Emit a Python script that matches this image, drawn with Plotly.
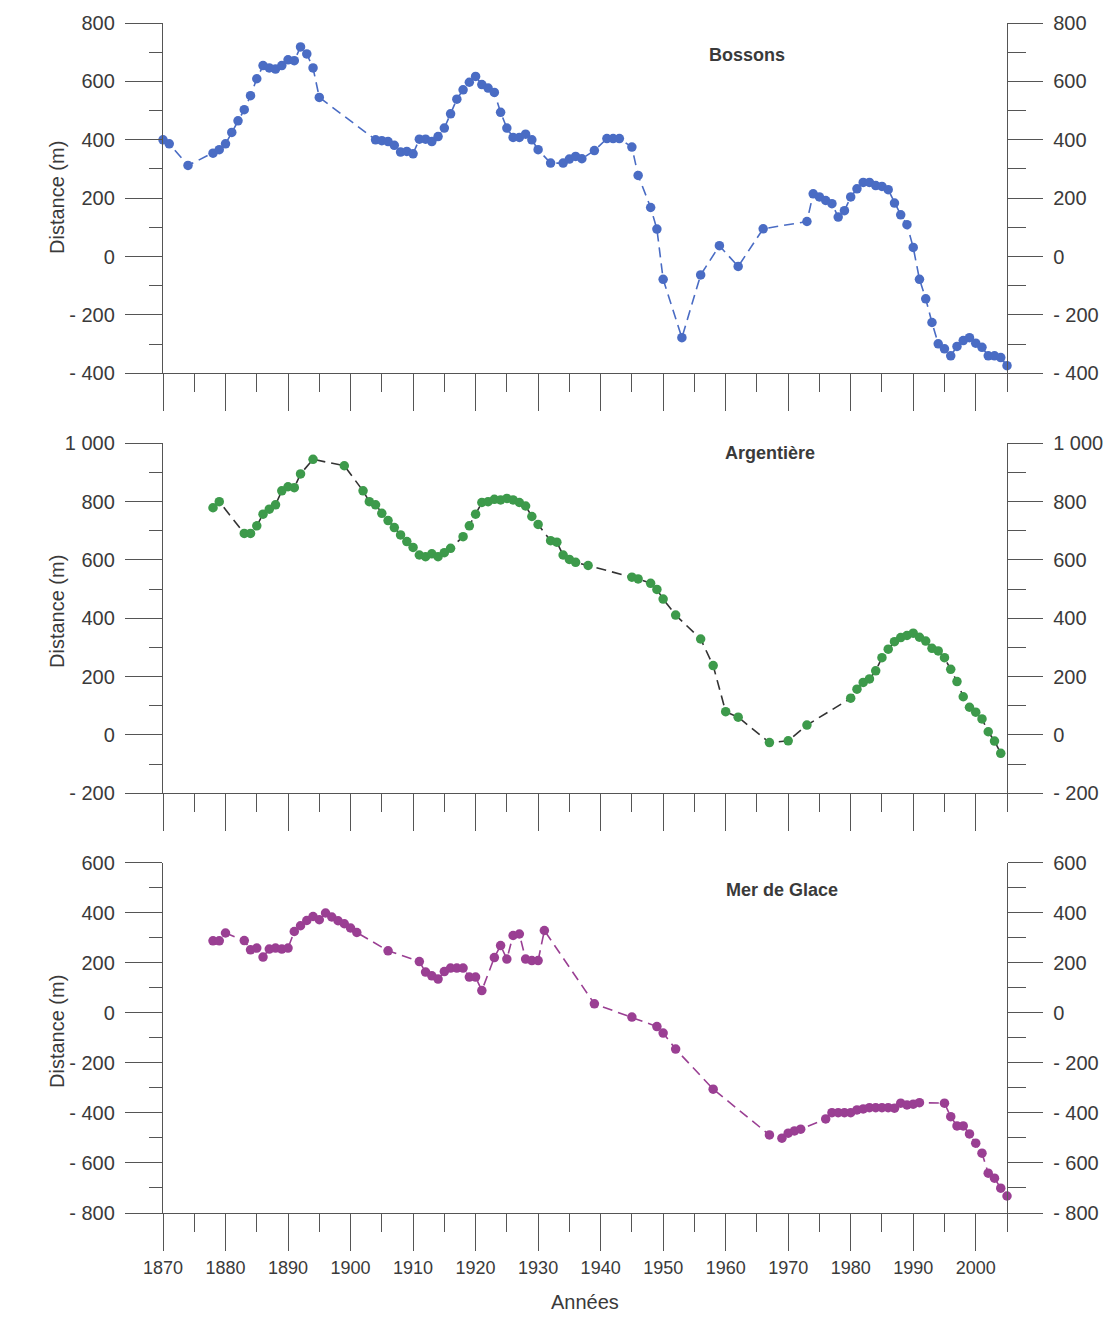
import plotly.graph_objects as go

# ---------------- data ----------------
bossons_years = [1870, 1871, 1874, 1878, 1879, 1880, 1881, 1882, 1883, 1884, 1885, 1886, 1887, 1888, 1889,
                 1890, 1891, 1892, 1893, 1894, 1895, 1904, 1905, 1906, 1907, 1908, 1909, 1910, 1911, 1912,
                 1913, 1914, 1915, 1916, 1917, 1918, 1919, 1920, 1921, 1922, 1923, 1924, 1925, 1926, 1927,
                 1928, 1929, 1930, 1932, 1934, 1935, 1936, 1937, 1939, 1941, 1942, 1943, 1945, 1946, 1948,
                 1949, 1950, 1953, 1956, 1959, 1962, 1966, 1973, 1974, 1975, 1976, 1977, 1978, 1979, 1980,
                 1981, 1982, 1983, 1984, 1985, 1986, 1987, 1988, 1989, 1990, 1991, 1992, 1993, 1994, 1995,
                 1996, 1997, 1998, 1999, 2000, 2001, 2002, 2003, 2004, 2005]
bossons_dist = [400, 386, 312, 354, 366, 386, 425, 465, 503, 551, 609, 654, 646, 642, 654,
                674, 671, 718, 694, 646, 545, 400, 397, 394, 381, 358, 360, 352, 402, 402,
                394, 411, 440, 489, 539, 571, 597, 617, 589, 577, 562, 494, 440, 408, 408,
                419, 400, 366, 320, 320, 334, 343, 335, 363, 404, 404, 404, 375, 278, 168,
                94, -78, -278, -63, 37, -34, 95, 120, 215, 204, 192, 181, 135, 157, 204,
                232, 254, 254, 243, 240, 229, 183, 143, 109, 31, -78, -145, -226, -299, -316,
                -340, -308, -288, -278, -297, -311, -340, -340, -346, -374]

argentiere_years = [1878, 1879, 1883, 1884, 1885, 1886, 1887, 1888, 1889, 1890, 1891, 1892, 1894, 1899,
                    1902, 1903, 1904, 1905, 1906, 1907, 1908, 1909, 1910, 1911, 1912, 1913, 1914, 1915,
                    1916, 1918, 1919, 1920, 1921, 1922, 1923, 1924, 1925, 1926, 1927, 1928, 1929, 1930,
                    1932, 1933, 1934, 1935, 1936, 1938, 1945, 1946, 1948, 1949, 1950, 1952, 1956, 1958,
                    1960, 1962, 1967, 1970, 1973, 1980, 1981, 1982, 1983, 1984, 1985, 1986, 1987, 1988,
                    1989, 1990, 1991, 1992, 1993, 1994, 1995, 1996, 1997, 1998, 1999, 2000, 2001, 2002,
                    2003, 2004]
argentiere_dist = [779, 800, 691, 691, 717, 757, 774, 789, 837, 851, 848, 895, 945, 923,
                   837, 800, 789, 760, 735, 711, 686, 663, 643, 617, 611, 621, 611, 625,
                   640, 680, 717, 757, 797, 800, 808, 806, 811, 806, 797, 785, 749, 722,
                   666, 661, 617, 602, 592, 581, 541, 535, 520, 499, 466, 411, 329, 238,
                   80, 61, -26, -20, 34, 126, 157, 180, 192, 220, 265, 294, 320, 334,
                   341, 349, 335, 322, 297, 288, 265, 225, 183, 131, 95, 78, 55, 11,
                   -21, -63]

merdeglace_years = [1878, 1879, 1880, 1883, 1884, 1885, 1886, 1887, 1888, 1889, 1890, 1891, 1892, 1893,
                    1894, 1895, 1896, 1897, 1898, 1899, 1900, 1901, 1906, 1911, 1912, 1913, 1914, 1915,
                    1916, 1917, 1918, 1919, 1920, 1921, 1923, 1924, 1925, 1926, 1927, 1928, 1929, 1930,
                    1931, 1939, 1945, 1949, 1950, 1952, 1958, 1967, 1969, 1970, 1971, 1972, 1976, 1977,
                    1978, 1979, 1980, 1981, 1982, 1983, 1984, 1985, 1986, 1987, 1988, 1989, 1990, 1991,
                    1995, 1996, 1997, 1998, 1999, 2000, 2001, 2002, 2003, 2004, 2005]
merdeglace_dist = [288, 288, 319, 289, 252, 259, 223, 255, 259, 255, 259, 325, 348, 369,
                   385, 372, 399, 383, 368, 356, 339, 321, 248, 205, 163, 148, 135, 165,
                   179, 179, 179, 143, 143, 89, 221, 269, 215, 309, 315, 215, 209, 209,
                   329, 36, -17, -55, -81, -145, -305, -488, -501, -481, -472, -465, -424, -399,
                   -399, -399, -399, -388, -384, -379, -379, -379, -379, -381, -361, -368, -365, -359,
                   -361, -415, -452, -452, -484, -521, -561, -641, -661, -701, -732]

panel_titles = ["Bossons", "Argentière", "Mer de Glace"]
y_title = "Distance (m)"
x_title = "Années"

# y tick labels per panel
bossons_tickvals = [800, 600, 400, 200, 0, -200, -400]
bossons_ticktext = ["800", "600", "400", "200", "0", "- 200", "- 400"]
argentiere_tickvals = [1000, 800, 600, 400, 200, 0, -200]
argentiere_ticktext = ["1 000", "800", "600", "400", "200", "0", "- 200"]
merdeglace_tickvals = [600, 400, 200, 0, -200, -400, -600, -800]
merdeglace_ticktext = ["600", "400", "200", "0", "- 200", "- 400", "- 600", "- 800"]

# ---------------- styling ----------------
FONT = "Liberation Sans, Arial, Helvetica, sans-serif"
TXT = "#3a3a3a"
AX = "#555555"
blue = "#4a6cc4"
green = "#3d9a4b"
purple = "#9a3f93"

W, H = 1103, 1333
ML, MR, MT, MB = 163, 96, 23, 120
plot_h = H - MT - MB
plot_w = W - ML - MR


def py(p):
    return (H - MB - p) / plot_h


def px(p):
    return (p - ML) / plot_w


domains = [[py(373.3), 1.0], [py(793.3), py(443.3)], [0.0, py(862.7)]]
ranges = [[-400, 800], [-200, 1000], [-800, 600]]
tickvals = [bossons_tickvals, argentiere_tickvals, merdeglace_tickvals]
ticktext = [bossons_ticktext, argentiere_ticktext, merdeglace_ticktext]

fig = go.Figure()

series = [
    (bossons_years, bossons_dist, blue, blue),
    (argentiere_years, argentiere_dist, green, "#333333"),
    (merdeglace_years, merdeglace_dist, purple, purple),
]
for i, (xs, ys, mc, lc) in enumerate(series):
    n = "" if i == 0 else str(i + 1)
    fig.add_trace(go.Scatter(
        x=xs, y=ys, xaxis="x" + n, yaxis="y" + n, mode="lines+markers",
        line=dict(color=lc, width=1.6, dash="10px,6px"),
        marker=dict(color=mc, size=9.5, line=dict(width=0)),
        cliponaxis=False, showlegend=False, hoverinfo="x+y",
    ))
    # companion (empty) trace so the right-hand axis is drawn
    fig.add_trace(go.Scatter(x=[None], y=[None], xaxis="x" + n, yaxis="y" + str(i + 4),
                             mode="lines", showlegend=False, hoverinfo="skip"))

layout = dict(
    width=W, height=H,
    margin=dict(l=ML, r=MR, t=MT, b=MB, autoexpand=False),
    paper_bgcolor="white", plot_bgcolor="white",
    font=dict(family=FONT, size=18, color=TXT),
    showlegend=False,
)

for i in range(3):
    n = "" if i == 0 else str(i + 1)
    minor_vals = list(range(ranges[i][0], ranges[i][1] + 1, 100))
    layout["xaxis" + n] = dict(
        domain=[0, 1], anchor="y" + n, range=[1870, 2005],
        tick0=1870, dtick=10, ticks="outside", ticklen=37, tickwidth=1.3, tickcolor=AX,
        minor=dict(tick0=1870, dtick=5, ticks="outside", ticklen=18, tickwidth=1.3, tickcolor=AX),
        showline=True, linecolor=AX, linewidth=1.3,
        showgrid=False, zeroline=False, tickformat="d",
        showticklabels=(i == 2), ticklabelstandoff=1,
        tickfont=dict(size=18, color=TXT, family=FONT),
        fixedrange=True,
    )
    common = dict(
        range=ranges[i], tickmode="array", tickvals=tickvals[i], ticktext=ticktext[i],
        ticks="outside", tickwidth=1.3, tickcolor=AX,
        showline=True, linecolor=AX, linewidth=1.3,
        showgrid=False, zeroline=False, fixedrange=True,
        tickfont=dict(size=20, color=TXT, family=FONT), ticklabelstandoff=6,
    )
    layout["yaxis" + n] = dict(
        domain=domains[i], anchor="x" + n, side="left", ticklen=37,
        minor=dict(tickmode="array", tickvals=minor_vals, ticks="outside", ticklen=13,
                   tickwidth=1.3, tickcolor=AX),
        **common,
    )
    layout["yaxis" + str(i + 4)] = dict(
        overlaying="y" + n, anchor="x" + n, side="right", ticklen=35,
        minor=dict(tickmode="array", tickvals=minor_vals, ticks="outside", ticklen=18,
                   tickwidth=1.3, tickcolor=AX),
        **common,
    )

annotations = []
title_pos = [(747, 55), (770, 452.7), (781.7, 890)]
for t, (ax_, ay_) in zip(panel_titles, title_pos):
    annotations.append(dict(text=t, x=px(ax_), y=py(ay_), xref="paper", yref="paper",
                            xanchor="center", yanchor="middle", showarrow=False,
                            font=dict(size=18, color=TXT, family=FONT, weight="bold")))
for cy in [198, 612, 1032]:
    annotations.append(dict(text=y_title, x=px(57), y=py(cy), xref="paper", yref="paper",
                            xanchor="center", yanchor="middle", showarrow=False, textangle=-90,
                            font=dict(size=20, color=TXT, family=FONT)))
annotations.append(dict(text=x_title, x=px(585), y=py(1302), xref="paper", yref="paper",
                        xanchor="center", yanchor="middle", showarrow=False,
                        font=dict(size=20, color=TXT, family=FONT)))
layout["annotations"] = annotations

fig.update_layout(**layout)
fig.write_html("out.html", config={"displayModeBar": False},
               post_script="document.body.style.margin='0';")
